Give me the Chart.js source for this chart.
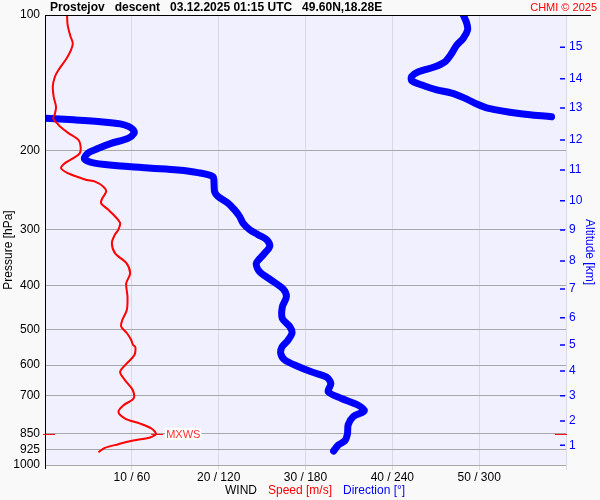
<!DOCTYPE html>
<html><head><meta charset="utf-8">
<script src="https://cdn.jsdelivr.net/npm/chart.js@4/dist/chart.umd.min.js"></script>
<style>html,body{margin:0;padding:0;background:#f9f9f9}canvas{display:block}</style>
</head><body>
<canvas id="c" width="600" height="500"></canvas>
<script>
// ---- data ----
const titleText = 'Prostejov   descent   03.12.2025 01:15 UTC   49.60N,18.28E';
const creditText = 'CHMI \u00A9 2025';
const pressureTicks = [100, 200, 300, 400, 500, 600, 700, 850, 925, 1000];
const speedTicks = [10, 20, 30, 40, 50];
const altitudeKm = [1, 2, 3, 4, 5, 6, 7, 8, 9, 10, 11, 12, 13, 14, 15];
const altitudePressure = [904, 798.5, 701.5, 618.3, 541.2, 470.7, 406.3, 352.1, 300.5, 258.6, 221.1, 189.6, 160.9, 138.6, 117.9];

const speedPressure = [100, 105, 111, 115.6, 119.6, 124.8, 132.5, 137, 144, 152, 160, 165.5, 170, 174.6, 177, 183, 189.5, 196, 203, 208, 213.4, 219, 225, 228.7, 232.6, 234.6, 240.7, 247, 255.4, 262, 271, 280.4, 290, 300, 307.7, 321.4, 338.6, 356.4, 375.2, 394.9, 422.4, 452.5, 476.3, 492.4, 509, 526.4, 541.2, 546.5, 569.6, 594.6, 620.8, 648.6, 681.3, 711.8, 736.6, 762.1, 788.6, 809.4, 830.8, 852.9, 868.4, 883.7, 899, 916, 937];
const speedValues = [2.54, 2.6, 2.9, 3.2, 3.0, 2.5, 1.55, 1.15, 0.9, 1.0, 1.27, 1.15, 0.95, 1.46, 1.73, 2.7, 3.85, 4.1, 4.0, 3.27, 2.3, 1.85, 2.7, 3.65, 4.8, 5.77, 6.73, 7.04, 6.6, 6.46, 7.3, 8.08, 8.65, 8.45, 8.05, 7.7, 8.08, 9.4, 9.8, 9.35, 9.5, 9.42, 8.9, 8.77, 9.42, 9.9, 10.15, 10.4, 10.3, 9.42, 8.65, 9.23, 10.1, 10.2, 9.04, 8.46, 9.23, 10.96, 12.3, 12.77, 12.1, 10.0, 8.46, 6.9, 6.15];

const dirPressure = [100, 104.3, 108, 112.7, 116.6, 121.7, 127, 130.3, 133.7, 137, 140, 143.1, 146.5, 149.2, 153, 157.2, 161.2, 165.5, 168.4,
  169.6, 171, 172.8, 174.6, 177, 180, 183.2, 188, 192.9, 198, 202.8, 209, 213.4, 217.2, 219, 221, 224, 228.7, 236.6, 247, 253, 262, 271, 280.4, 290, 300, 307.7, 315.5, 326.4, 341.4, 356.4, 372.3, 388.8, 406, 422.4, 445.1, 472.5, 492.4, 509, 530, 546.5, 565, 584.3, 604.3, 620.8, 637.6, 659.6, 687.4, 711.8, 736.6, 757.9, 781, 813.7, 852.9, 883.7, 903.4, 931];
const dirValues = [289, 291.4, 292, 289, 284.5, 281, 276.4, 269.5, 258, 253.3, 253.5, 260.5, 270, 281, 290, 297.5, 306.6, 327.5, 350,
  0.5, 20, 40, 52, 58, 61, 61.5, 57.3, 45.7, 36.5, 29.6, 27.3, 34.2, 57.3, 73.4, 91.8, 105.7, 116, 116.8, 117.2, 119.5, 126.5, 131, 134.5, 136.8, 141.5, 147.2, 153, 155.3, 150.7, 146, 148.4, 156.5, 164.5, 166.8, 164, 164, 169.1, 170.7, 167.5, 163.8, 162.9, 165.7, 174.9, 184, 194.5, 197.5, 195.7, 204.9, 216.4, 220.6, 213, 209.5, 209, 207.2, 202.6, 199.4];

const mxwsPressure = 853;
const mxwsSpeed = 12.8;

// ---- build datasets ----
const FONT = '"Liberation Sans", Arial, sans-serif';
const speedData = speedPressure.map((p, i) => ({x: speedValues[i], y: p}));
// split direction at the 360 -> 0 wrap
const dirSegments = [[]];
dirValues.forEach((d, i) => {
  if (i > 0 && Math.abs(d - dirValues[i - 1]) > 180) dirSegments.push([]);
  dirSegments[dirSegments.length - 1].push({x: d, y: dirPressure[i]});
});
const dirDatasets = dirSegments.map(seg => ({
  label: 'Direction', data: seg, xAxisID: 'xd', yAxisID: 'y',
  showLine: true, borderColor: '#0000ff', borderWidth: 7, pointRadius: 0,
  borderCapStyle: 'round', borderJoinStyle: 'round', tension: 0.3
}));

const decor = {
  id: 'decor',
  beforeDraw(chart) {
    const {ctx, chartArea: a} = chart;
    ctx.save();
    ctx.fillStyle = '#f9f9f9';
    ctx.fillRect(0, 0, chart.width, chart.height);
    ctx.fillStyle = '#f0f0ff';
    ctx.fillRect(a.left, a.top, a.right - a.left, a.bottom - a.top);
    ctx.restore();
  },
  afterDraw(chart) {
    const {ctx, chartArea: a, scales} = chart;
    const y = scales.y, y2 = scales.y2, x = scales.x;
    ctx.save();
    // borders
    ctx.strokeStyle = '#000'; ctx.lineWidth = 1;
    ctx.beginPath();
    ctx.moveTo(a.left, a.top + 0.5); ctx.lineTo(591, a.top + 0.5);
    ctx.moveTo(a.left + 0.5, a.top); ctx.lineTo(a.left + 0.5, a.bottom + 4);
    ctx.stroke();
    // right altitude tick marks
    ctx.strokeStyle = '#0000ff'; ctx.lineWidth = 1.5;
    ctx.beginPath();
    altitudePressure.forEach(p => {
      const py = y2.getPixelForValue(p);
      ctx.moveTo(a.right - 6, py); ctx.lineTo(a.right - 1, py);
    });
    ctx.stroke();
    // MXWS markers
    const my = y.getPixelForValue(mxwsPressure);
    const mx = x.getPixelForValue(mxwsSpeed);
    ctx.strokeStyle = '#ff0000'; ctx.lineWidth = 1;
    ctx.beginPath();
    ctx.moveTo(43, my + 0.5); ctx.lineTo(a.left + 10, my + 0.5);
    ctx.moveTo(a.right - 11, my + 0.5); ctx.lineTo(a.right + 1, my + 0.5);
    ctx.moveTo(mx - 5, my + 0.5); ctx.lineTo(mx + 7, my + 0.5);
    ctx.stroke();
    ctx.font = '11px ' + FONT;
    const tw = ctx.measureText('MXWS').width;
    ctx.fillStyle = '#ffffff';
    ctx.fillRect(mx + 9, my - 6, tw + 2, 12);
    ctx.fillStyle = '#ff3030';
    ctx.textBaseline = 'middle'; ctx.textAlign = 'left';
    ctx.fillText('MXWS', mx + 10, my + 1);
    // title
    ctx.fillStyle = '#000';
    ctx.textAlign = 'left'; ctx.font = 'bold 12px ' + FONT;
    ctx.fillText(titleText, 50, 8);
    ctx.textAlign = 'right'; ctx.font = '11px ' + FONT; ctx.fillStyle = '#ff0000';
    ctx.fillText(creditText, 597, 8);
    // axis titles
    ctx.save();
    ctx.translate(9, 250); ctx.rotate(-Math.PI / 2);
    ctx.textAlign = 'center'; ctx.fillStyle = '#000'; ctx.font = '12px ' + FONT;
    ctx.fillText('Pressure [hPa]', 0, 0);
    ctx.restore();
    ctx.save();
    ctx.translate(589, 252); ctx.rotate(Math.PI / 2);
    ctx.textAlign = 'center'; ctx.fillStyle = '#0000ff'; ctx.font = '12px ' + FONT;
    ctx.fillText('Altitude [km]', 0, 0);
    ctx.restore();
    // bottom title
    ctx.textAlign = 'left'; ctx.font = '12px ' + FONT;
    const parts = [['WIND', '#000'], ['Speed [m/s]', '#ff0000'], ['Direction [\u00B0]', '#0000ff']];
    let px = 225;
    parts.forEach(([t, c]) => {
      ctx.fillStyle = c; ctx.fillText(t, px, 491);
      px += ctx.measureText(t).width + 11;
    });
    ctx.restore();
  }
};

new Chart(document.getElementById('c'), {
  type: 'scatter',
  data: {
    datasets: [
      {label: 'Speed', data: speedData, xAxisID: 'x', yAxisID: 'y', showLine: true,
       borderColor: '#ff0000', borderWidth: 2, pointRadius: 0, tension: 0.3},
      ...dirDatasets
    ]
  },
  options: {
    responsive: false, animation: false, devicePixelRatio: 1,
    layout: {padding: {top: 15, left: 0, right: 0, bottom: 0}},
    plugins: {legend: {display: false}, tooltip: {enabled: false}},
    scales: {
      x: {
        type: 'linear', position: 'bottom', min: 0, max: 60,
        afterFit: s => { s.height = 35; },
        afterBuildTicks: s => { s.ticks = [0, ...speedTicks, 60].map(v => ({value: v})); },
        ticks: {
          autoSkip: false, maxRotation: 0, padding: 0, color: '#000', font: {family: FONT, size: 12},
          callback: v => speedTicks.includes(v) ? v + ' / ' + (v * 6) : ''
        },
        grid: {
          color: c => (c.tick && c.tick.value === 0) ? 'rgba(0,0,0,0)' : '#dadae2',
          tickColor: c => (c.tick && c.tick.value === 0) ? 'rgba(0,0,0,0)' : '#dadae2',
          tickLength: 5
        },
        border: {display: false}
      },
      xd: {type: 'linear', min: 0, max: 360, display: false},
      y: {
        type: 'logarithmic', position: 'left', min: 100, max: 1000, reverse: true,
        afterFit: s => { s.width = 45; },
        afterBuildTicks: s => { s.ticks = pressureTicks.map(v => ({value: v})); },
        ticks: {
          autoSkip: false, padding: 5, color: '#000', font: {family: FONT, size: 12},
          callback: v => String(v)
        },
        grid: {
          drawTicks: false,
          color: c => (c.tick && c.tick.value === 100) ? 'rgba(0,0,0,0)' : '#a8a8a8'
        },
        border: {display: false}
      },
      y2: {
        type: 'logarithmic', position: 'right', min: 100, max: 1000, reverse: true,
        afterFit: s => { s.width = 34; },
        afterBuildTicks: s => { s.ticks = altitudePressure.map(v => ({value: v})); },
        ticks: {
          autoSkip: false, padding: 3, color: '#0000ff', font: {family: FONT, size: 12},
          callback: (v, i) => String(altitudeKm[i])
        },
        grid: {display: false, drawTicks: false, drawOnChartArea: false},
        border: {display: false}
      }
    }
  },
  plugins: [decor]
});
</script>
</body></html>
